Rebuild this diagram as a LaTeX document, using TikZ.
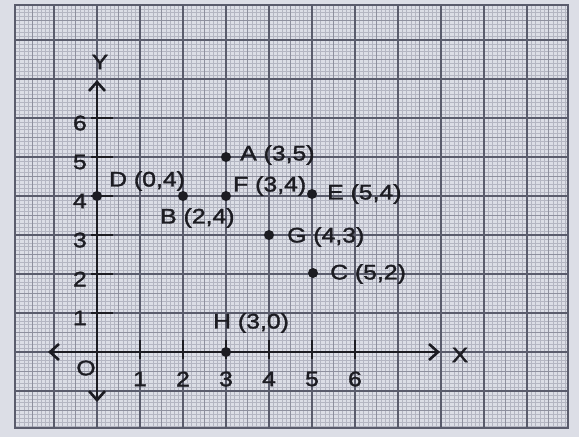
\documentclass[tikz,border=0pt]{standalone}
\usepackage{fontspec}
\setmainfont{Liberation Sans}
\newfontfamily\lblfont[FakeStretch=1.18,FakeBold=1.6]{Liberation Sans}
\usetikzlibrary{arrows.meta}
\definecolor{paper}{HTML}{DCDEE6}
\definecolor{minorc}{HTML}{B4B6C2}
\definecolor{midc}{HTML}{8E909E}
\definecolor{majorc}{HTML}{5A5C6C}
\definecolor{ink}{HTML}{1C1C22}
\begin{document}
\begin{tikzpicture}[x=1pt,y=-1pt,
  lbl/.style={inner sep=0pt,font=\lblfont\fontsize{21}{22}\selectfont,text=ink},
  dotp/.style={circle,fill=ink,inner sep=0pt,minimum size=10pt},
  minorl/.style={minorc,line width=0.5pt},
  midl/.style={midc,line width=0.8pt},
  majorl/.style={majorc,line width=1.4pt},
  axisl/.style={ink,line width=2.8pt},
  tickl/.style={ink,line width=2.4pt},
  barb/.tip={Straight Barb[length=9pt,width=16pt,line width=2.6pt]}]
\useasboundingbox (0,0) rectangle (579,437);
\fill[paper] (0,0) rectangle (579,437);
\begin{scope}
  \clip (15,5) rectangle (568,428);
  \foreach \i in {-20,...,110} \draw[minorl] ({97+4.3*\i},0) -- ({97+4.3*\i},437);
  \foreach \j in {-20,...,90} \draw[minorl] (0,{352-3.9*\j}) -- (579,{352-3.9*\j});
  \foreach \i in {-4,...,22} \draw[midl] ({97+21.5*\i},0) -- ({97+21.5*\i},437);
  \foreach \j in {-4,...,18} \draw[midl] (0,{352-19.5*\j}) -- (579,{352-19.5*\j});
  \foreach \i in {-2,...,11} \draw[majorl] ({97+43*\i},0) -- ({97+43*\i},437);
  \foreach \j in {-2,...,9} \draw[majorl] (0,{352-39*\j}) -- (579,{352-39*\j});
\end{scope}
\draw[majorl] (15,5) rectangle (568,428);
% axes
\coordinate (xl) at (48,352);
\coordinate (xr) at (440,352);
\coordinate (yt) at (97,80);
\coordinate (yb) at (97,402);
\draw[axisl,barb-barb] (xl) -- (xr);
\draw[axisl,barb-barb] (yb) -- (yt);
\node[lbl] (Xlab) at (460,355) {X};
\node[lbl] (Ylab) at (100,62) {Y};
\node[lbl] (Olab) at (86,368) {O};
% ticks
\foreach \k in {1,...,6} {
  \draw[tickl] ({97+43*\k},340) -- ({97+43*\k},359);
  \node[lbl] (xt\k) at ({97+43*\k},379) {\k};
  \draw[tickl] (91,{352-39*\k}) -- (113,{352-39*\k});
  \node[lbl,anchor=east] (yt\k) at (87,{357-39*\k}) {\k};
}
% points
\node[dotp] (A) at (226,157) {};
\node[dotp] (D) at (97,196) {};
\node[dotp] (B) at (183,196) {};
\node[dotp] (F) at (226,196) {};
\node[dotp] (E) at (312,194) {};
\node[dotp] (G) at (269,235) {};
\node[dotp] (C) at (313,273) {};
\node[dotp] (H) at (226,352) {};
% labels
\node[lbl,anchor=west] (Alab) at (240,155) {A (3,5)};
\node[lbl,anchor=west] (Dlab) at (109,181) {D (0,4)};
\node[lbl,anchor=west] (Flab) at (233,186) {F (3,4)};
\node[lbl,anchor=west] (Elab) at (327,194) {E (5,4)};
\node[lbl,anchor=west] (Blab) at (160,218) {B (2,4)};
\node[lbl,anchor=west] (Glab) at (287,237) {G (4,3)};
\node[lbl,anchor=west] (Clab) at (330,274) {C (5,2)};
\node[lbl,anchor=west] (Hlab) at (213,323) {H (3,0)};
\end{tikzpicture}
\end{document}
